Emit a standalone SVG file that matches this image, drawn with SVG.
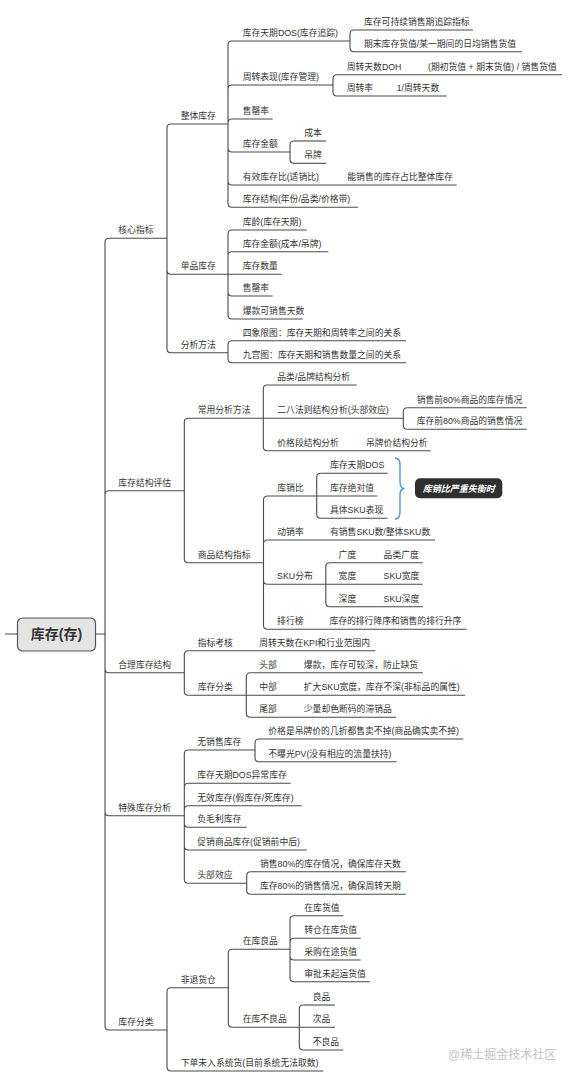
<svg xmlns="http://www.w3.org/2000/svg" width="574" height="1080" viewBox="0 0 574 1080">
<style>
.t{font-family:'Liberation Sans','Noto Sans CJK SC',sans-serif;font-size:8.8px;fill:#333}
.u{stroke:#4a4a4a;stroke-width:1.1;fill:none}
.c path{stroke:#4a4a4a;stroke-width:1.1;fill:none}
.root{font-family:'Liberation Sans','Noto Sans CJK SC',sans-serif;font-size:14px;font-weight:bold;fill:#333}
.wm{font-family:'Liberation Sans','Noto Sans CJK SC',sans-serif;font-size:12px;fill:#c4c4c4}
</style>
<rect width="574" height="1080" fill="#fff"/>
<g id="connectors" class="c">
<path d="M5 634H17.5M95.5 634H105"/>
<path d="M105 634V242.3Q105 238.3 109 238.3M105 634V494.7Q105 490.7 109 490.7M105 634V668.7Q105 672.7 109 672.7M105 634V811.7Q105 815.7 109 815.7M105 634V1026Q105 1030 109 1030"/>
<path d="M167 238.3V128Q167 124 171 124M167 238.3V270.3Q167 274.3 171 274.3M167 238.3V348.7Q167 352.7 171 352.7"/>
<path d="M228 124V45Q228 41 232 41M228 124V89Q228 85 232 85M228 124V123Q228 119 232 119M228 124V148Q228 152 232 152M228 124V181Q228 185 232 185M228 124V203.3Q228 207.3 232 207.3"/>
<path d="M350 41V34Q350 30 354 30M350 41V47.7Q350 51.7 354 51.7"/>
<path d="M333 85V78.7Q333 74.7 337 74.7M333 85V92Q333 96 337 96"/>
<path d="M290 152V145Q290 141 294 141M290 152V159.3Q290 163.3 294 163.3"/>
<path d="M228 274.3V234Q228 230 232 230M228 274.3V255.7Q228 251.7 232 251.7M228 274.3V292Q228 296 232 296M228 274.3V315Q228 319 232 319"/>
<path d="M228 352.7V344.7Q228 340.7 232 340.7M228 352.7V358.7Q228 362.7 232 362.7"/>
<path d="M184.3 490.7V422.3Q184.3 418.3 188.3 418.3M184.3 490.7V558.7Q184.3 562.7 188.3 562.7"/>
<path d="M263.3 418.3V389Q263.3 385 267.3 385M263.3 418.3V446.7Q263.3 450.7 267.3 450.7"/>
<path d="M403.3 418.3V411.7Q403.3 407.7 407.3 407.7M403.3 418.3V425.3Q403.3 429.3 407.3 429.3"/>
<path d="M263.5 562.7V500Q263.5 496 267.5 496M263.5 562.7V544Q263.5 540 267.5 540M263.5 562.7V580.3Q263.5 584.3 267.5 584.3M263.5 562.7V625.3Q263.5 629.3 267.5 629.3"/>
<path d="M316.7 496V477.3Q316.7 473.3 320.7 473.3M316.7 496V514.3Q316.7 518.3 320.7 518.3"/>
<path d="M325.8 584.3V566.7Q325.8 562.7 329.8 562.7M325.8 584.3V602.7Q325.8 606.7 329.8 606.7"/>
<path d="M184.3 672.7V654.7Q184.3 650.7 188.3 650.7M184.3 672.7V691.3Q184.3 695.3 188.3 695.3"/>
<path d="M246.3 695.3V676.7Q246.3 672.7 250.3 672.7M246.3 695.3V713.3Q246.3 717.3 250.3 717.3"/>
<path d="M184.3 815.7V754Q184.3 750 188.3 750M184.3 815.7V787.3Q184.3 783.3 188.3 783.3M184.3 815.7V809.7Q184.3 805.7 188.3 805.7M184.3 815.7V823.3Q184.3 827.3 188.3 827.3M184.3 815.7V846Q184.3 850 188.3 850M184.3 815.7V879.3Q184.3 883.3 188.3 883.3"/>
<path d="M255 750V743Q255 739 259 739M255 750V757.7Q255 761.7 259 761.7"/>
<path d="M246.7 883.3V875.7Q246.7 871.7 250.7 871.7M246.7 883.3V890.3Q246.7 894.3 250.7 894.3"/>
<path d="M167 1030V991.7Q167 987.7 171 987.7M167 1030V1067Q167 1071 171 1071"/>
<path d="M228.3 987.7V953.3Q228.3 949.3 232.3 949.3M228.3 987.7V1023.3Q228.3 1027.3 232.3 1027.3"/>
<path d="M290 949.3V919.7Q290 915.7 294 915.7M290 949.3V942.3Q290 938.3 294 938.3M290 949.3V956Q290 960 294 960M290 949.3V977.7Q290 981.7 294 981.7"/>
<path d="M299.3 1027.3V1009Q299.3 1005 303.3 1005M299.3 1027.3V1046Q299.3 1050 303.3 1050"/>
<path d="M395 458Q400 458 400 465V482Q400 488.5 404.5 488.5Q400 488.5 400 495V512Q400 519 395 519" style="stroke:#4a8fd6;stroke-width:1.3"/>
</g>
<g id="root"><rect x="17.5" y="618" width="78" height="33" rx="5" fill="#e4e4e4" stroke="#555" stroke-width="1.2"/><text class="root" x="56.5" y="639" text-anchor="middle">库存(存)</text></g>
<g id="core"><text class="t" x="118.3" y="233.3">核心指标</text><path class="u" d="M109 238.3H167"/></g>
<g id="whole"><text class="t" x="180.7" y="119">整体库存</text><path class="u" d="M171 124H228"/></g>
<g id="dos"><text class="t" x="242.7" y="36">库存天期DOS(库存追踪)</text><path class="u" d="M232 41H350"/></g>
<g id="dos1"><text class="t" x="364" y="25">库存可持续销售期追踪指标</text><path class="u" d="M354 30H473"/></g>
<g id="dos2"><text class="t" x="364" y="46.7">期末库存货值/某一期间的日均销售货值</text><path class="u" d="M354 51.7H522"/></g>
<g id="turn"><text class="t" x="242.7" y="80">周转表现(库存管理)</text><path class="u" d="M232 85H333"/></g>
<g id="doh"><text class="t" x="346.7" y="69.7">周转天数DOH</text><path class="u" d="M337 74.7H420"/></g>
<g id="doh1"><text class="t" x="428" y="69.7">(期初货值 + 期末货值) / 销售货值</text><path class="u" d="M420 74.7H562"/></g>
<g id="rate"><text class="t" x="346.7" y="91">周转率</text><path class="u" d="M337 96H388"/></g>
<g id="rate1"><text class="t" x="396.7" y="91">1/周转天数</text><path class="u" d="M388 96H447"/></g>
<g id="sell"><text class="t" x="242.7" y="114">售罄率</text><path class="u" d="M232 119H272.7"/></g>
<g id="amt"><text class="t" x="242.7" y="147">库存金额</text><path class="u" d="M232 152H290"/></g>
<g id="cost"><text class="t" x="304.3" y="136">成本</text><path class="u" d="M294 141H326"/></g>
<g id="tag"><text class="t" x="304.3" y="158.3">吊牌</text><path class="u" d="M294 163.3H326"/></g>
<g id="eff"><text class="t" x="242.7" y="180">有效库存比(适销比)</text><path class="u" d="M232 185H338"/></g>
<g id="eff1"><text class="t" x="347.3" y="180">能销售的库存占比整体库存</text><path class="u" d="M338 185H456.7"/></g>
<g id="stru"><text class="t" x="242.7" y="202.3">库存结构(年份/品类/价格带)</text><path class="u" d="M232 207.3H358"/></g>
<g id="single"><text class="t" x="180.7" y="269.3">单品库存</text><path class="u" d="M171 274.3H228"/></g>
<g id="age"><text class="t" x="242.7" y="225">库龄(库存天期)</text><path class="u" d="M232 230H306.7"/></g>
<g id="samt"><text class="t" x="242.7" y="246.7">库存金额(成本/吊牌)</text><path class="u" d="M232 251.7H328.3"/></g>
<g id="qty"><text class="t" x="242.7" y="269.3">库存数量</text><path class="u" d="M228 274.3H281.7"/></g>
<g id="ssell"><text class="t" x="242.7" y="291">售罄率</text><path class="u" d="M232 296H272.7"/></g>
<g id="hot"><text class="t" x="242.7" y="314">爆款可销售天数</text><path class="u" d="M232 319H302.7"/></g>
<g id="method"><text class="t" x="180.7" y="347.7">分析方法</text><path class="u" d="M171 352.7H228"/></g>
<g id="quad"><text class="t" x="242.7" y="335.7">四象限图：库存天期和周转率之间的关系</text><path class="u" d="M232 340.7H406"/></g>
<g id="nine"><text class="t" x="242.7" y="357.7">九宫图：库存天期和销售数量之间的关系</text><path class="u" d="M232 362.7H406"/></g>
<g id="struct"><text class="t" x="118.3" y="485.7">库存结构评估</text><path class="u" d="M109 490.7H184.3"/></g>
<g id="common"><text class="t" x="197.7" y="413.3">常用分析方法</text><path class="u" d="M188.3 418.3H263.3"/></g>
<g id="brand"><text class="t" x="277.3" y="380">品类/品牌结构分析</text><path class="u" d="M267.3 385H356.7"/></g>
<g id="c28"><text class="t" x="277.3" y="413.3">二八法则结构分析(头部效应)</text><path class="u" d="M263.3 418.3H403.3"/></g>
<g id="c28a"><text class="t" x="416.7" y="402.7">销售前80%商品的库存情况</text><path class="u" d="M407.3 407.7H526.7"/></g>
<g id="c28b"><text class="t" x="416.7" y="424.3">库存前80%商品的销售情况</text><path class="u" d="M407.3 429.3H526.7"/></g>
<g id="price"><text class="t" x="277.3" y="445.7">价格段结构分析</text><path class="u" d="M267.3 450.7H362"/></g>
<g id="price1"><text class="t" x="366" y="445.7">吊牌价结构分析</text><path class="u" d="M362 450.7H430.7"/></g>
<g id="prod"><text class="t" x="197.7" y="557.7">商品结构指标</text><path class="u" d="M188.3 562.7H263.5"/></g>
<g id="kx"><text class="t" x="277.3" y="491">库销比</text><path class="u" d="M267.5 496H316.7"/></g>
<g id="kx1"><text class="t" x="330" y="468.3">库存天期DOS</text><path class="u" d="M320.7 473.3H387.7"/></g>
<g id="kx2"><text class="t" x="330" y="491">库存绝对值</text><path class="u" d="M316.7 496H377.3"/></g>
<g id="kx3"><text class="t" x="330" y="513.3">具体SKU表现</text><path class="u" d="M320.7 518.3H387.7"/></g>
<g id="summary"><rect x="415" y="478.3" width="87.3" height="20" rx="5" fill="#2f2f2f"/><text x="458.7" y="491.6" text-anchor="middle" style="font-family:'Liberation Sans','Noto Sans CJK SC',sans-serif;font-size:9px;font-weight:bold;font-style:italic;fill:#fff">库销比严重失衡时</text></g>
<g id="dx"><text class="t" x="277.3" y="535">动销率</text><path class="u" d="M267.5 540H326"/></g>
<g id="dx1"><text class="t" x="330" y="535">有销售SKU数/整体SKU数</text><path class="u" d="M326 540H435"/></g>
<g id="sku"><text class="t" x="277.1" y="579.3">SKU分布</text><path class="u" d="M267.5 584.3H325.8"/></g>
<g id="w1"><text class="t" x="338.6" y="557.7">广度</text><path class="u" d="M329.8 562.7H379"/></g>
<g id="w1a"><text class="t" x="383.6" y="557.7">品类广度</text><path class="u" d="M379 562.7H422.8"/></g>
<g id="w2"><text class="t" x="338.6" y="579.3">宽度</text><path class="u" d="M325.8 584.3H379"/></g>
<g id="w2a"><text class="t" x="383.6" y="579.3">SKU宽度</text><path class="u" d="M379 584.3H422.8"/></g>
<g id="w3"><text class="t" x="338.6" y="601.7">深度</text><path class="u" d="M329.8 606.7H379"/></g>
<g id="w3a"><text class="t" x="383.6" y="601.7">SKU深度</text><path class="u" d="M379 606.7H422.8"/></g>
<g id="rank"><text class="t" x="277.1" y="624.3">排行榜</text><path class="u" d="M267.5 629.3H326"/></g>
<g id="rank1"><text class="t" x="329.4" y="624.3">库存的排行降序和销售的排行升序</text><path class="u" d="M326 629.3H466.7"/></g>
<g id="reason"><text class="t" x="118.3" y="667.7">合理库存结构</text><path class="u" d="M109 672.7H184.3"/></g>
<g id="kpi"><text class="t" x="197.7" y="645.7">指标考核</text><path class="u" d="M188.3 650.7H255"/></g>
<g id="kpi1"><text class="t" x="259.2" y="645.7">周转天数在KPI和行业范围内</text><path class="u" d="M255 650.7H375.2"/></g>
<g id="ic"><text class="t" x="197.7" y="690.3">库存分类</text><path class="u" d="M188.3 695.3H246.3"/></g>
<g id="head"><text class="t" x="259.2" y="667.7">头部</text><path class="u" d="M250.3 672.7H299"/></g>
<g id="head1"><text class="t" x="303.8" y="667.7">爆款，库存可较深，防止缺货</text><path class="u" d="M299 672.7H422.8"/></g>
<g id="mid"><text class="t" x="259.2" y="690.3">中部</text><path class="u" d="M246.3 695.3H299"/></g>
<g id="mid1"><text class="t" x="303.8" y="690.3">扩大SKU宽度，库存不深(非标品的属性)</text><path class="u" d="M299 695.3H465"/></g>
<g id="tail"><text class="t" x="259.2" y="712.3">尾部</text><path class="u" d="M250.3 717.3H299"/></g>
<g id="tail1"><text class="t" x="303.8" y="712.3">少量却色断码的滞销品</text><path class="u" d="M299 717.3H396"/></g>
<g id="special"><text class="t" x="118.3" y="810.7">特殊库存分析</text><path class="u" d="M109 815.7H184.3"/></g>
<g id="ns"><text class="t" x="197.3" y="745">无销售库存</text><path class="u" d="M188.3 750H255"/></g>
<g id="ns1"><text class="t" x="268.3" y="734">价格是吊牌价的几折都售卖不掉(商品确实卖不掉)</text><path class="u" d="M259 739H463.3"/></g>
<g id="ns2"><text class="t" x="268.3" y="756.7">不曝光PV(没有相应的流量扶持)</text><path class="u" d="M259 761.7H396.7"/></g>
<g id="dosab"><text class="t" x="197.3" y="778.3">库存天期DOS异常库存</text><path class="u" d="M188.3 783.3H290.7"/></g>
<g id="inval"><text class="t" x="197.3" y="800.7">无效库存(假库存/死库存)</text><path class="u" d="M188.3 805.7H301.7"/></g>
<g id="neg"><text class="t" x="197.3" y="822.3">负毛利库存</text><path class="u" d="M188.3 827.3H246.7"/></g>
<g id="promo"><text class="t" x="197.3" y="845">促销商品库存(促销前中后)</text><path class="u" d="M188.3 850H306.7"/></g>
<g id="he"><text class="t" x="197.3" y="878.3">头部效应</text><path class="u" d="M188.3 883.3H246.7"/></g>
<g id="he1"><text class="t" x="260" y="866.7">销售80%的库存情况，确保库存天数</text><path class="u" d="M250.7 871.7H406"/></g>
<g id="he2"><text class="t" x="260" y="889.3">库存80%的销售情况，确保周转天期</text><path class="u" d="M250.7 894.3H406"/></g>
<g id="cat"><text class="t" x="118.3" y="1025">库存分类</text><path class="u" d="M109 1030H167"/></g>
<g id="nr"><text class="t" x="180.7" y="982.7">非退货仓</text><path class="u" d="M171 987.7H228.3"/></g>
<g id="good"><text class="t" x="242.7" y="944.3">在库良品</text><path class="u" d="M232.3 949.3H290"/></g>
<g id="g1"><text class="t" x="304.3" y="910.7">在库货值</text><path class="u" d="M294 915.7H343.3"/></g>
<g id="g2"><text class="t" x="304.3" y="933.3">转仓在库货值</text><path class="u" d="M294 938.3H360.7"/></g>
<g id="g3"><text class="t" x="304.3" y="955">采购在途货值</text><path class="u" d="M294 960H360.7"/></g>
<g id="g4"><text class="t" x="304.3" y="976.7">审批未起运货值</text><path class="u" d="M294 981.7H370"/></g>
<g id="bad"><text class="t" x="242.7" y="1022.3">在库不良品</text><path class="u" d="M232.3 1027.3H299.3"/></g>
<g id="b1"><text class="t" x="312.7" y="1000">良品</text><path class="u" d="M303.3 1005H335"/></g>
<g id="b2"><text class="t" x="312.7" y="1022.3">次品</text><path class="u" d="M299.3 1027.3H335"/></g>
<g id="b3"><text class="t" x="312.7" y="1045">不良品</text><path class="u" d="M303.3 1050H343.3"/></g>
<g id="order"><text class="t" x="180.7" y="1066">下单未入系统货(目前系统无法取数)</text><path class="u" d="M171 1071H323.3"/></g>
<text class="wm" x="448" y="1059">@稀土掘金技术社区</text>
</svg>
